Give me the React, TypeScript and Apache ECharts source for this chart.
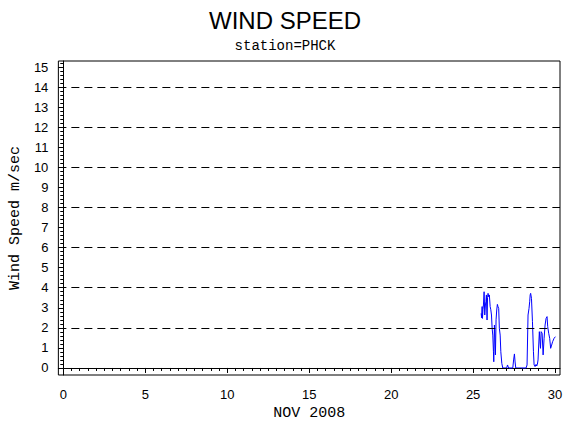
import React, { useEffect, useRef } from 'react';
import * as echarts from 'echarts';

// day of month (Nov 2008) and wind speed (m/sec)
const days = [
  25.49, 25.52, 25.55, 25.57, 25.6, 25.63, 25.67, 25.71, 25.75, 25.78, 25.81, 25.85, 25.88, 25.91, 25.95, 25.99,
  26.04, 26.08, 26.12, 26.16, 26.2, 26.24, 26.26, 26.3, 26.33, 26.36, 26.4, 26.44, 26.48, 26.52, 26.56, 26.6,
  26.65, 26.69, 26.75, 26.81, 27.05, 27.08, 27.1, 27.14, 27.18, 27.42, 27.47, 27.52, 27.56, 27.6,
  28.23, 28.29, 28.35, 28.41, 28.45, 28.48, 28.51, 28.56, 28.62, 28.68, 28.72, 28.78, 28.84, 28.88, 28.92, 28.96,
  29.04, 29.08, 29.11, 29.15, 29.21, 29.27, 29.33, 29.39, 29.45, 29.51, 29.55, 29.61, 29.67, 29.73, 29.79, 29.85,
  29.94, 30.02,
];
const speeds = [
  2.72, 2.5, 3.06, 2.47, 2.9, 3.14, 3.8, 2.64, 3.14, 3.3, 3.64, 2.39, 3.5, 3.72, 3.55, 3.64,
  3.06, 2.9, 2.64, 1.98, 1.64, 0.81, 0.31, 2.14, 1.5, 0.65, 2.4, 2.89, 3.17, 3.05, 2.97, 1.98,
  1.64, 0.81, 0.23, 0.0, 0.0, 0.1, 0.15, 0.05, 0.0, 0.0, 0.4, 0.7, 0.3, 0.0,
  0.0, 0.15, 2.64, 2.97, 3.3, 3.64, 3.72, 3.47, 2.31, 0.81, 0.15, 0.07, 0.18, 0.1, 0.18, 0.4,
  1.81, 1.3, 0.98, 1.81, 1.73, 0.65, 1.48, 2.14, 2.47, 2.56, 2.06, 1.73, 1.48, 0.98, 1.14, 1.31,
  1.48, 1.56,
];

const xMajorTicks = [0, 5, 10, 15, 20, 25, 30];
const xMinorTicks = Array.from({ length: 61 }, (_, i) => i * 0.5);
const yMajorTicks = [0, 1, 2, 3, 4, 5, 6, 7, 8, 9, 10, 11, 12, 13, 14, 15];
const yMinorTicks = Array.from({ length: 77 }, (_, i) => Math.round(i * 2) / 10);
const gridLevels = [0, 2, 4, 6, 8, 10, 12, 14];

const App: React.FC = () => {
  const chartRef = useRef<HTMLDivElement>(null);

  useEffect(() => {
    if (!chartRef.current) return;
    const chart = echarts.init(chartRef.current, null, { renderer: 'svg' });

    const labelFont = { fontFamily: 'Liberation Sans', fontSize: 13, color: '#000' };
    const nameFont = { fontFamily: 'Liberation Mono', fontSize: 15, color: '#000' };

    chart.setOption({
      animation: false,
      backgroundColor: '#fff',
      title: {
        text: 'WIND SPEED',
        subtext: 'station=PHCK',
        left: 'center',
        top: 8,
        padding: 0,
        itemGap: 7,
        textStyle: { fontFamily: 'Liberation Sans', fontSize: 24, fontWeight: 'normal', color: '#000' },
        subtextStyle: { fontFamily: 'Liberation Mono', fontSize: 14, color: '#000' },
      },
      grid: {
        left: 58,
        right: 10,
        top: 61,
        bottom: 55,
        show: true,
        borderColor: '#000',
        borderWidth: 1,
      },
      xAxis: [
        {
          type: 'value',
          min: -0.3,
          max: 30.3,
          name: 'NOV 2008',
          nameLocation: 'middle',
          nameGap: 30,
          nameTextStyle: nameFont,
          axisLine: { show: true, lineStyle: { color: '#000', width: 1 } },
          axisTick: { show: true, length: 5, customValues: xMajorTicks, lineStyle: { color: '#000' } },
          axisLabel: { show: true, margin: 13, customValues: xMajorTicks, ...labelFont },
          splitLine: { show: false },
        },
        {
          type: 'value',
          min: -0.3,
          max: 30.3,
          position: 'bottom',
          axisLine: { show: false },
          axisTick: { show: true, length: 3, customValues: xMinorTicks, lineStyle: { color: '#000' } },
          axisLabel: { show: false },
          splitLine: { show: false },
        },
      ],
      yAxis: [
        {
          type: 'value',
          min: -0.35,
          max: 15.3,
          name: 'Wind Speed m/sec',
          nameLocation: 'middle',
          nameGap: 33,
          nameTextStyle: nameFont,
          axisLine: { show: true, lineStyle: { color: '#000', width: 1 } },
          axisTick: { show: true, length: 5, customValues: yMajorTicks, lineStyle: { color: '#000' } },
          axisLabel: { show: true, margin: 10, customValues: yMajorTicks, ...labelFont },
          splitLine: { show: false },
        },
        {
          type: 'value',
          min: -0.35,
          max: 15.3,
          position: 'left',
          axisLine: { show: false },
          axisTick: { show: true, length: 3, customValues: yMinorTicks, lineStyle: { color: '#000' } },
          axisLabel: { show: false },
          splitLine: { show: false },
        },
      ],
      series: [
        {
          type: 'line',
          xAxisIndex: 0,
          yAxisIndex: 0,
          data: days.map((d, i) => [d, speeds[i]]),
          showSymbol: false,
          symbol: 'none',
          lineStyle: { color: '#0000ff', width: 1 },
          markLine: {
            silent: true,
            symbol: ['none', 'none'],
            label: { show: false },
            lineStyle: { color: '#000', type: [8, 5], width: 1 },
            data: gridLevels.map((v) => ({ yAxis: v })),
          },
        },
      ],
    });

    return () => {
      chart.dispose();
    };
  }, []);

  return (
    <div
      ref={chartRef}
      style={{ position: 'fixed', left: 0, top: 0, width: 570, height: 430, background: '#fff' }}
    />
  );
};

export default App;
